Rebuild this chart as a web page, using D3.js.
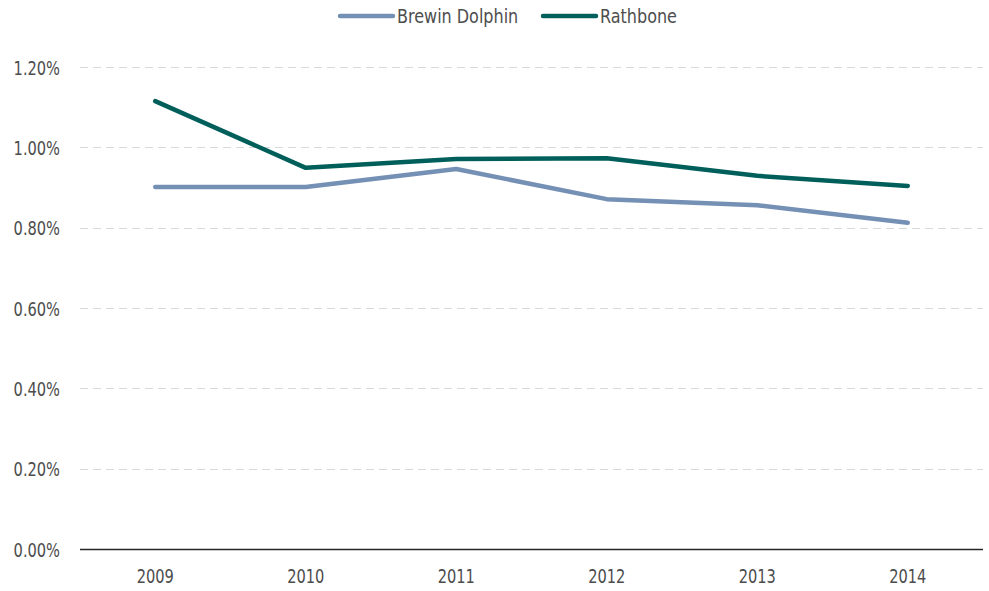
<!DOCTYPE html>
<html>
<head>
<meta charset="utf-8">
<script src="https://cdn.jsdelivr.net/npm/d3@7"></script>
<style>
  body { margin: 0; background: #fff; }
  text { font-family: "DejaVu Sans", sans-serif; fill: #4d4d4d; }
</style>
</head>
<body>
<div id="chart"></div>
<script>
var years = ["2009", "2010", "2011", "2012", "2013", "2014"];
var brewin = [0.901, 0.901, 0.946, 0.871, 0.856, 0.812];
var rathbone = [1.115, 0.949, 0.971, 0.973, 0.929, 0.904];
var yTicks = [0, 0.2, 0.4, 0.6, 0.8, 1.0, 1.2];

var series = [
  { name: "Brewin Dolphin", values: brewin, color: "#7590b5" },
  { name: "Rathbone", values: rathbone, color: "#005f5a" }
];

var svgWidth = 989;
var svgHeight = 591;
var margin = { top: 67, right: 6, bottom: 42, left: 80 };
var width = svgWidth - margin.left - margin.right;
var height = svgHeight - margin.top - margin.bottom;

// condensed look: squeeze the glyphs horizontally
var numScale = 0.77;
var legScale = 0.8;

var svg = d3.select("#chart")
  .append("svg")
  .attr("width", svgWidth)
  .attr("height", svgHeight);

var chartGroup = svg.append("g")
  .attr("transform", `translate(${margin.left}, ${margin.top})`);

var xScale = d3.scaleBand()
  .domain(years)
  .range([0, width]);

var yScale = d3.scaleLinear()
  .domain([0, 1.2])
  .range([height, 0]);

// gridlines
chartGroup.selectAll(".grid")
  .data(yTicks.filter(d => d > 0))
  .enter()
  .append("line")
  .attr("x1", 0)
  .attr("x2", width)
  .attr("y1", d => Math.round(yScale(d)) + 0.5)
  .attr("y2", d => Math.round(yScale(d)) + 0.5)
  .attr("stroke", "#d9d9d9")
  .attr("stroke-width", 1)
  .attr("stroke-dasharray", "8,5");

// y axis labels
var leftAxis = d3.axisLeft(yScale)
  .tickValues(yTicks)
  .tickFormat(d => d.toFixed(2) + "%")
  .tickSize(0);

var yAxisG = chartGroup.append("g").call(leftAxis)
  .attr("font-family", null).attr("font-size", null);
yAxisG.select(".domain").remove();
yAxisG.selectAll("text")
  .attr("x", -20 / numScale)
  .attr("dy", "0.38em")
  .attr("transform", `scale(${numScale},1)`)
  .style("font-size", "19px");

// x axis
var bottomAxis = d3.axisBottom(xScale).tickSize(0).tickPadding(20);
var xAxisG = chartGroup.append("g")
  .attr("transform", `translate(0, ${height})`)
  .call(bottomAxis)
  .attr("font-family", null).attr("font-size", null);
xAxisG.select(".domain").remove();
xAxisG.selectAll("text")
  .attr("y", 21)
  .attr("transform", `scale(${numScale},1)`)
  .style("font-size", "19px");

chartGroup.append("line")
  .attr("x1", 0)
  .attr("x2", width)
  .attr("y1", height + 0.5)
  .attr("y2", height + 0.5)
  .attr("stroke", "#262626")
  .attr("stroke-width", 1.3);

// lines
var line = d3.line()
  .x((d, i) => xScale(years[i]) + xScale.bandwidth() / 2)
  .y(d => yScale(d));

chartGroup.selectAll(".series")
  .data(series)
  .enter()
  .append("path")
  .attr("d", d => line(d.values))
  .attr("fill", "none")
  .attr("stroke", d => d.color)
  .attr("stroke-width", 4.5)
  .attr("stroke-linecap", "round")
  .attr("stroke-linejoin", "round");

// legend
var legendX = [340, 543];
var legend = svg.selectAll(".legend")
  .data(series)
  .enter()
  .append("g")
  .attr("transform", (d, i) => `translate(${legendX[i]}, 16)`);

legend.append("line")
  .attr("x1", 0)
  .attr("x2", 53)
  .attr("y1", 0)
  .attr("y2", 0)
  .attr("stroke", d => d.color)
  .attr("stroke-width", 4.5)
  .attr("stroke-linecap", "round");

legend.append("text")
  .attr("x", 57 / legScale)
  .attr("dy", "0.37em")
  .attr("transform", `scale(${legScale},1)`)
  .style("font-size", "20px")
  .text(d => d.name);
</script>
</body>
</html>
